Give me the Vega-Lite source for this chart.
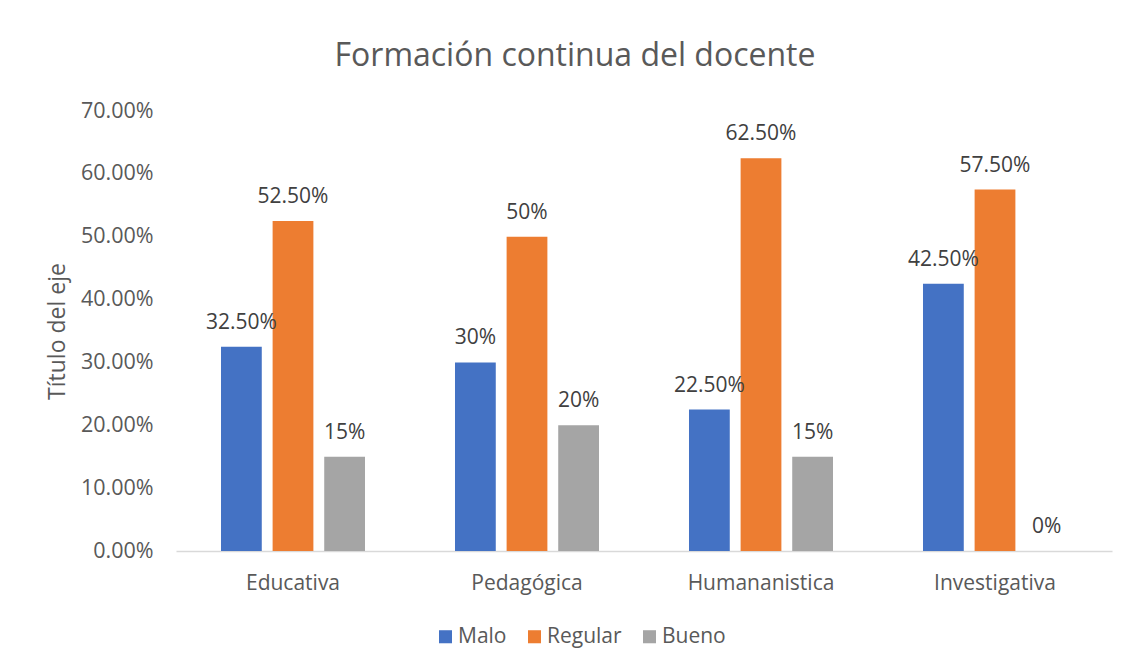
{
  "$schema": "https://vega.github.io/schema/vega-lite/v6.json",
  "width": 936,
  "height": 440,
  "autosize": {"type": "none"},
  "padding": {"left": 176, "top": 111, "right": 19, "bottom": 114},
  "background": "white",
  "config": {"view": {"stroke": null}, "font": "Open Sans"},
  "title": {
    "text": "Formación continua del docente",
    "fontSize": 32,
    "fontWeight": "normal",
    "color": "#595959",
    "anchor": "middle",
    "frame": "group",
    "dx": -69,
    "baseline": "alphabetic",
    "offset": 2
  },
  "data": {
    "values": [
      {"categoria": "Educativa", "nivel": "Malo", "valor": 0.325, "label": "32.50%"},
      {"categoria": "Educativa", "nivel": "Regular", "valor": 0.525, "label": "52.50%"},
      {"categoria": "Educativa", "nivel": "Bueno", "valor": 0.15, "label": "15%"},
      {"categoria": "Pedagógica", "nivel": "Malo", "valor": 0.30, "label": "30%"},
      {"categoria": "Pedagógica", "nivel": "Regular", "valor": 0.50, "label": "50%"},
      {"categoria": "Pedagógica", "nivel": "Bueno", "valor": 0.20, "label": "20%"},
      {"categoria": "Humananistica", "nivel": "Malo", "valor": 0.225, "label": "22.50%"},
      {"categoria": "Humananistica", "nivel": "Regular", "valor": 0.625, "label": "62.50%"},
      {"categoria": "Humananistica", "nivel": "Bueno", "valor": 0.15, "label": "15%"},
      {"categoria": "Investigativa", "nivel": "Malo", "valor": 0.425, "label": "42.50%"},
      {"categoria": "Investigativa", "nivel": "Regular", "valor": 0.575, "label": "57.50%"},
      {"categoria": "Investigativa", "nivel": "Bueno", "valor": 0, "label": "0%"}
    ]
  },
  "encoding": {
    "x": {
      "field": "categoria",
      "type": "nominal",
      "sort": ["Educativa", "Pedagógica", "Humananistica", "Investigativa"],
      "scale": {"paddingInner": 0.3846, "paddingOuter": 0.1923},
      "axis": {
        "title": null,
        "labelAngle": 0,
        "labelFontSize": 21,
        "labelColor": "#595959",
        "labelPadding": 21,
        "ticks": false,
        "domainColor": "#D9D9D9",
        "domainWidth": 1.5,
        "grid": false
      }
    },
    "xOffset": {
      "field": "nivel",
      "type": "nominal",
      "sort": ["Malo", "Regular", "Bueno"],
      "scale": {"paddingInner": 0.21, "paddingOuter": 0}
    },
    "y": {
      "field": "valor",
      "type": "quantitative",
      "scale": {"domain": [0, 0.7], "nice": false},
      "axis": {
        "values": [0, 0.1, 0.2, 0.3, 0.4, 0.5, 0.6, 0.7],
        "format": ".2%",
        "grid": false,
        "domain": false,
        "ticks": false,
        "labelPadding": 23,
        "labelFontSize": 21.5,
        "labelColor": "#595959",
        "title": "Título del eje",
        "titleFontSize": 23,
        "titleFontWeight": "normal",
        "titleColor": "#595959",
        "titlePadding": 11
      }
    }
  },
  "layer": [
    {
      "mark": {"type": "bar"},
      "encoding": {
        "color": {
          "field": "nivel",
          "type": "nominal",
          "sort": ["Malo", "Regular", "Bueno"],
          "scale": {"domain": ["Malo", "Regular", "Bueno"], "range": ["#4472C4", "#ED7D31", "#A5A5A5"]},
          "legend": {
            "title": null,
            "orient": "none",
            "direction": "horizontal",
            "legendX": 259,
            "legendY": 515,
            "symbolType": "square",
            "symbolSize": 170,
            "symbolStrokeWidth": 0,
            "labelFontSize": 21,
            "labelColor": "#595959",
            "labelOffset": 2,
            "columnPadding": 17
          }
        }
      }
    },
    {
      "mark": {"type": "text", "baseline": "alphabetic", "dy": -18, "fontSize": 21, "color": "#404040"},
      "encoding": {"text": {"field": "label", "type": "nominal"}}
    }
  ]
}
